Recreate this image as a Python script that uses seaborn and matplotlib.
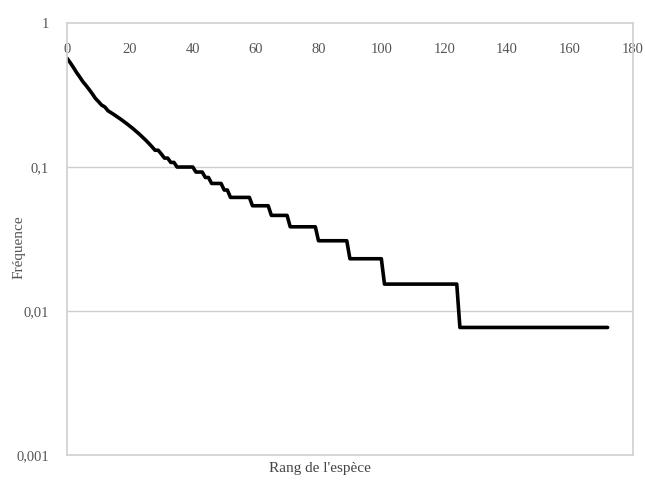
import numpy as np
import pandas as pd
import matplotlib
matplotlib.use("Agg")
import matplotlib.pyplot as plt
import seaborn as sns

# number of occurrences per species, sorted by rank
total = 130
top_counts = [74, 69, 64, 59, 55, 51, 48, 45, 42, 39, 37, 35, 34, 32, 31, 30,
              29, 28, 27, 26, 25, 24, 23, 22, 21, 20, 19, 18, 17, 17, 16, 15,
              15, 14, 14, 13, 13, 13, 13, 13, 13, 12, 12, 12, 11, 11]
# (count, number of species with that count) for the tail
tail_levels = [10, 9, 8, 7, 6, 5, 4, 3, 2, 1]
tail_sizes = [4, 2, 7, 6, 6, 9, 10, 11, 24, 48]

x_ticks = [0, 20, 40, 60, 80, 100, 120, 140, 160, 180]
y_ticks = [1, 0.1, 0.01, 0.001]
y_labels = ["1", "0,1", "0,01", "0,001"]

counts = top_counts + [c for c, n in zip(tail_levels, tail_sizes) for _ in range(n)]
df = pd.DataFrame({"rang": np.arange(len(counts)),
                   "freq": np.array(counts) / total})

sns.set_theme(style="white")
plt.rcParams["font.family"] = ["Liberation Serif", "DejaVu Serif"]

fig = plt.figure(figsize=(6.45, 4.8), dpi=100)
ax = fig.add_axes([0.104, 0.052, 0.877, 0.9])

sns.lineplot(data=df, x="rang", y="freq", color="black", linewidth=2.6,
             estimator=None, ax=ax)

ax.set_yscale("log")
ax.set_ylim(0.001, 1)
ax.set_xlim(0, 180)
ax.yaxis.set_minor_locator(matplotlib.ticker.NullLocator())
ax.set_yticks(y_ticks)
ax.set_yticklabels(y_labels)
ax.set_xticks(x_ticks)

for y in [0.1, 0.01]:
    ax.axhline(y, color="#cfcfcf", linewidth=1, zorder=0)

for s in ax.spines.values():
    s.set_color("#d0d0d0")
    s.set_linewidth(1.2)

ax.tick_params(axis="x", top=False, bottom=False, labeltop=True, labelbottom=False,
               pad=-30, labelsize=10.5, labelcolor="#555555")
ax.tick_params(axis="y", left=False, labelsize=10.5, labelcolor="#555555", pad=7)

ax.set_xlabel("Rang de l'espèce", fontsize=11, color="#444444", x=0.447, labelpad=5)
ax.xaxis.set_label_position("bottom")
ax.set_ylabel("Fréquence", fontsize=11, color="#555555")
ax.yaxis.set_label_coords(-0.074, 0.48)

fig.savefig("out.png", dpi=100, facecolor="white")
